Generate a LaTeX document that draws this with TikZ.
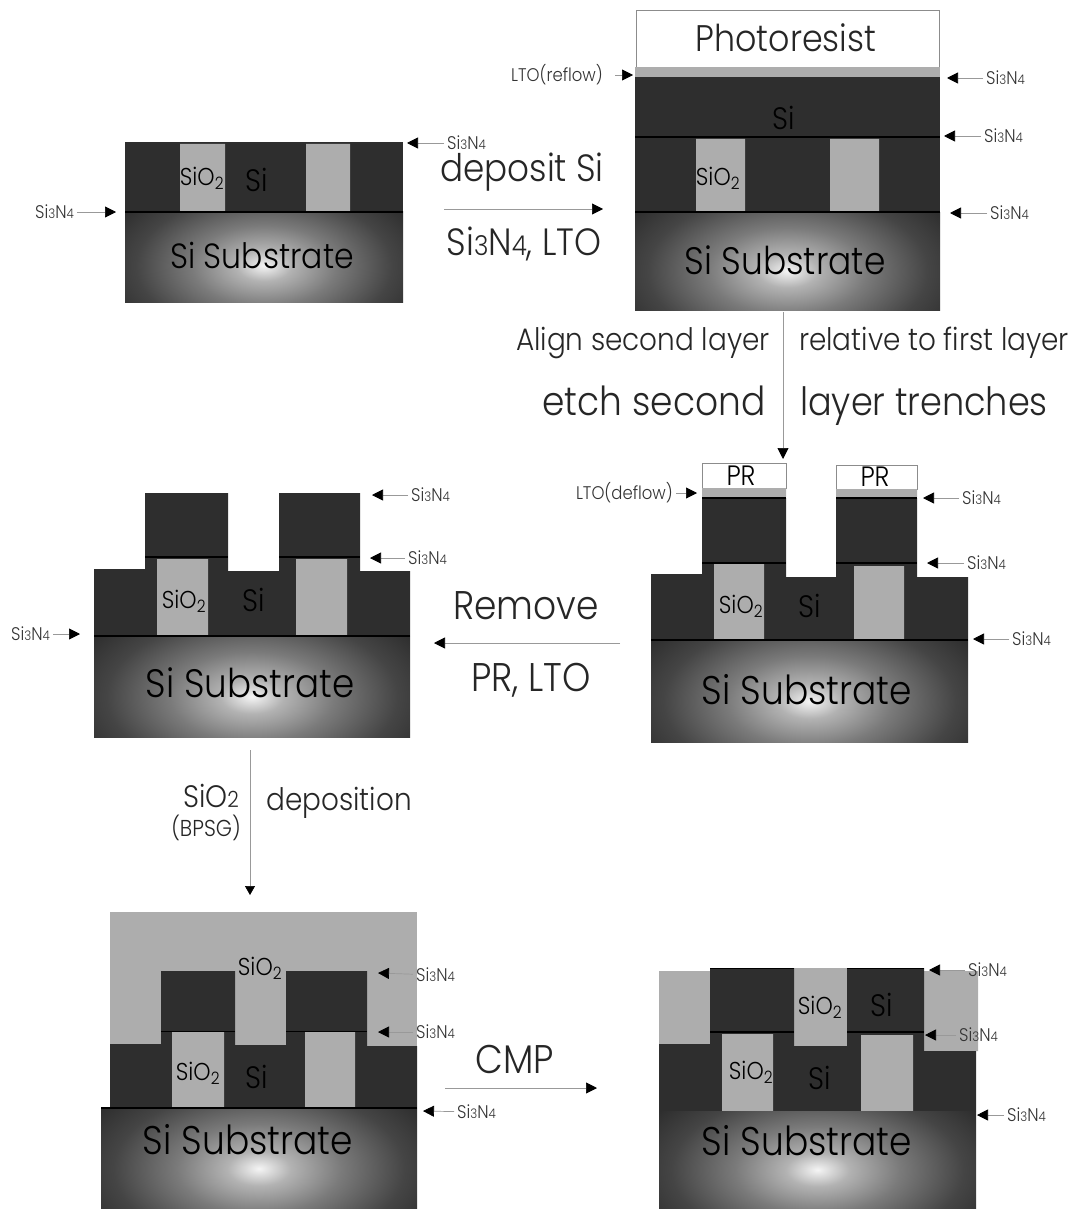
\documentclass[tikz,border=0pt]{standalone}
\usepackage{fontspec}
\usepackage{graphicx}
\setmainfont{Poppins}[UprightFont=*-Light,FakeStretch=0.9]
\usetikzlibrary{arrows.meta}
\definecolor{sidark}{gray}{0.18}
\definecolor{oxide}{gray}{0.68}
\definecolor{linegray}{gray}{0.6}
\pgfdeclareradialshading{subglow}{\pgfpoint{0bp}{0bp}}{color(0bp)=(white!96!black); color(5bp)=(white!70!black); color(13bp)=(black!52); color(23bp)=(black!73); color(33bp)=(black!85); color(50bp)=(black!92)}
\newcommand\sn{Si\scalebox{.72}{3}N\scalebox{.72}{4}}
\newcommand\sno{SiO\textsubscript{2}}
\newcommand\fs[1]{\fontsize{#1}{#1}\selectfont}
\newcommand\substr[4]{\begin{scope}\clip (#1,#2) rectangle (#3,#4);
 \path[shading=subglow] (#1,{#2-0.25*(#4-#2)}) rectangle (#3,{#2+1.45*(#4-#2)});\end{scope}}
\tikzset{
 lab/.style={font=\fs{18.3},inner sep=0pt,text=black!80},
 cell/.style={font=\fs{24.4},inner sep=0pt,text=black},
 sil/.style={font=\fs{31},inner sep=0pt,text=black},
 subs/.style={font=\fs{40},inner sep=0pt,text=black},
 big/.style={font=\fs{38},inner sep=0pt,text=black!85},
 bigger/.style={font=\fs{40},inner sep=0pt,text=black!85},
 mid/.style={font=\fs{31},inner sep=0pt,text=black!85},
 prt/.style={font=\fs{28},inner sep=0pt,text=black},
 conn/.style={draw=linegray,line width=.7pt,shorten <=3pt,-{Triangle[length=11pt,width=11pt,black]}},
 darkfill/.style={fill=sidark,draw=none},
 oxfill/.style={fill=oxide,draw=none},
 nitride/.style={draw=black,line width=1.3pt},
 prbox/.style={fill=white,draw=black!45,line width=.5pt},
}
\begin{document}
\begin{tikzpicture}[x=1pt,y=-1pt]
\useasboundingbox (0,0) rectangle (1071,1209);
% ---------- panel 1
\path[darkfill] (125,142) rectangle (403,211);
\path[oxfill] (180,144) rectangle (225,211) (306,144) rectangle (350,211);
\substr{125}{211}{403}{302}
\draw[nitride] (125,212) -- (403,212);
\node[cell] (p1ox) at (202,178) {\sno};
\node[sil] (p1si) at (257,180) {Si};
\node[subs,font=\fs{35}] (p1sub) at (262,255) {Si Substrate};
\node[lab,anchor=west] (p1a) at (447,143) {\sn};
\coordinate (p1at) at (407,143);
\draw[conn] (p1a) -- (p1at);
\node[lab,anchor=west] (p1b) at (35,212) {\sn};
\coordinate (p1bt) at (116,212);
\draw[conn] (p1b) -- (p1bt);
% step 1 arrow
\node[big] (dep) at (522,172) {deposit Si};
\node[big] (dep2) at (524,244) {\sn, LTO};
\coordinate (s1a) at (444,209);
\coordinate (s1b) at (603,209);
\draw[conn,shorten <=0pt] (s1a) -- (s1b);
% ---------- panel 2
\path[prbox] (636,10) rectangle (939,67);
\path[oxfill] (635,67) rectangle (940,77);
\path[darkfill] (635,77) rectangle (940,212);
\path[oxfill] (696,139) rectangle (745,212) (830,139) rectangle (879,212);
\substr{635}{212}{940}{310}
\draw[nitride] (635,137) -- (940,137);
\draw[nitride] (635,212) -- (940,212);
\node[font=\fs{37},inner sep=0pt,text=black!85] (p2pr) at (786,38) {Photoresist};
\node[sil] (p2si) at (784,118) {Si};
\node[cell] (p2ox) at (718,178) {\sno};
\node[subs,font=\fs{38.3}] (p2sub) at (785,260) {Si Substrate};
\node[lab,anchor=east] (p2l) at (603,75) {LTO(reflow)};
\coordinate (p2lt) at (633,75);
\draw[conn,shorten <=12pt] (p2l) -- (p2lt);
\node[lab,anchor=west] (p2a) at (986,78) {\sn};
\coordinate (p2at) at (947,78);
\draw[conn] (p2a) -- (p2at);
\node[lab,anchor=west] (p2b) at (984,136) {\sn};
\coordinate (p2bt) at (944,136);
\draw[conn] (p2b) -- (p2bt);
\node[lab,anchor=west] (p2c) at (990,213) {\sn};
\coordinate (p2ct) at (950,213);
\draw[conn] (p2c) -- (p2ct);
% step 2 arrow
\node[mid,anchor=base] (al1) at (643,350) {Align second layer};
\node[mid,anchor=base] (al2) at (934,350) {relative to first layer};
\node[bigger,anchor=base] (et1) at (654,415) {etch second};
\node[bigger,anchor=base,font=\fs{39}] (et2) at (924,415) {layer trenches};
\coordinate (s2a) at (783,312);
\coordinate (s2b) at (783,459);
\draw[conn,shorten <=0pt] (s2a) -- (s2b);
% ---------- panel 3
\path[darkfill] (651,574) -| (702,498) -| (786,577) -| (836,498) -| (917,577) -| (968,640) -| cycle;
\path[prbox] (702,463) rectangle (786,488) (836,465) rectangle (917,489);
\path[oxfill] (702,488) rectangle (786,497) (836,489) rectangle (917,497);
\path[oxfill] (714,564) rectangle (764,640) (854,566) rectangle (904,640);
\substr{651}{640}{968}{742}
\draw[nitride] (702,498) -- (786,498) (836,498) -- (917,498);
\draw[nitride] (702,563) -- (786,563) (836,563) -- (917,563);
\draw[nitride] (651,640) -- (968,640);
\node[prt] (p3pr1) at (741,476) {PR};
\node[prt] (p3pr2) at (875,477) {PR};
\node[cell] (p3ox) at (741,606) {\sno};
\node[sil] (p3si) at (810,606) {Si};
\node[subs] (p3sub) at (807,690) {Si Substrate};
\node[lab,anchor=east] (p3l) at (673,493) {LTO(deflow)};
\coordinate (p3lt) at (697,493);
\draw[conn] (p3l) -- (p3lt);
\node[lab,anchor=west] (p3a) at (962,498) {\sn};
\coordinate (p3at) at (923,498);
\draw[conn] (p3a) -- (p3at);
\node[lab,anchor=west] (p3b) at (967,563) {\sn};
\coordinate (p3bt) at (927,563);
\draw[conn] (p3b) -- (p3bt);
\node[lab,anchor=west] (p3c) at (1012,639) {\sn};
\coordinate (p3ct) at (973,639);
\draw[conn] (p3c) -- (p3ct);
% step 3 arrow
\node[bigger] (rem1) at (526,606) {Remove};
\node[bigger] (rem2) at (531,680) {PR, LTO};
\coordinate (s3a) at (620,643);
\coordinate (s3b) at (434,643);
\draw[conn,shorten <=0pt] (s3a) -- (s3b);
% ---------- panel 4
\path[darkfill] (94,569) -| (145,493) -| (228,571) -| (279,493) -| (360,571) -| (410,636) -| cycle;
\path[oxfill] (157,559) rectangle (208,636) (296,559) rectangle (347,636);
\substr{94}{636}{410}{737}
\draw[nitride] (145,557) -- (228,557) (279,557) -- (360,557);
\draw[nitride] (94,636) -- (410,636);
\node[cell] (p4ox) at (184,601) {\sno};
\node[sil] (p4si) at (254,600) {Si};
\node[subs,font=\fs{39.7}] (p4sub) at (250,683) {Si Substrate};
\node[lab,anchor=west] (p4a) at (411,495) {\sn};
\coordinate (p4at) at (372,495);
\draw[conn] (p4a) -- (p4at);
\node[lab,anchor=west] (p4b) at (408,558) {\sn};
\coordinate (p4bt) at (370,558);
\draw[conn] (p4b) -- (p4bt);
\node[lab,anchor=west] (p4c) at (11,634) {\sn};
\coordinate (p4ct) at (80,634);
\draw[conn] (p4c) -- (p4ct);
% step 4 arrow
\node[font=\fs{31},inner sep=0pt,text=black!85] (d1) at (211,796) {SiO\scalebox{.72}{2}};
\node[font=\fs{23},inner sep=0pt,text=black!85] (d2) at (206,828) {(BPSG)};
\node[mid] (d3) at (339,803) {deposition};
\coordinate (s4a) at (250,750);
\coordinate (s4b) at (250,895);
\draw[conn,shorten <=0pt,-{Triangle[length=9pt,width=10pt,black]}] (s4a) -- (s4b);
% ---------- panel 5
\path[oxfill] (110,912) rectangle (417,1046);
\path[darkfill] (110,1044) -| (161,971) -| (235,1045) -| (286,971) -| (367,1046) -| (417,1108) -| cycle;
\path[oxfill] (172,1032) rectangle (224,1108) (305,1032) rectangle (355,1108);
\substr{101}{1108}{417}{1209}
\draw[nitride,line width=.8pt] (161,1031) -- (235,1031) (286,1031) -- (367,1031);
\draw[nitride] (101,1108) -- (417,1108);
\node[cell] (p5ox1) at (260,968) {\sno};
\node[cell] (p5ox2) at (198,1073) {\sno};
\node[sil] (p5si) at (257,1077) {Si};
\node[subs] (p5sub) at (248,1140) {Si Substrate};
\node[lab,anchor=west] (p5a) at (416,975) {\sn};
\coordinate (p5at) at (378,973);
\draw[conn] (p5a) -- (p5at);
\node[lab,anchor=west] (p5b) at (416,1032) {\sn};
\coordinate (p5bt) at (378,1032);
\draw[conn] (p5b) -- (p5bt);
\node[lab,anchor=west] (p5c) at (457,1112) {\sn};
\coordinate (p5ct) at (423,1111);
\draw[conn] (p5c) -- (p5ct);
% step 5 arrow
\node[bigger] (cmp) at (515,1059) {CMP};
\coordinate (s5a) at (445,1088);
\coordinate (s5b) at (597,1088);
\draw[conn,shorten <=0pt] (s5a) -- (s5b);
% ---------- panel 6
\path[oxfill] (659,971) rectangle (710,1046) (794,968) rectangle (847,1048) (924,971) rectangle (978,1051);
\path[darkfill] (659,1044) -| (710,968) -| (794,1046) -| (847,968) -| (924,1051) -| (976,1111) -| cycle;
\path[oxfill] (722,1034) rectangle (773,1111) (861,1035) rectangle (913,1111);
\substr{659}{1111}{976}{1209}
\draw[nitride,line width=.9pt] (710,968.5) -- (794,968.5) (847,968.5) -- (924,968.5);
\draw[nitride] (710,1032) -- (794,1032) (847,1032) -- (924,1032);
\node[cell] (p6ox1) at (820,1007) {\sno};
\node[sil] (p6si1) at (882,1005) {Si};
\node[cell] (p6ox2) at (751,1072) {\sno};
\node[sil] (p6si2) at (820,1078) {Si};
\node[subs] (p6sub) at (807,1141) {Si Substrate};
\node[lab,anchor=west] (p6a) at (968,970) {\sn};
\coordinate (p6at) at (929,970);
\draw[conn] (p6a) -- (p6at);
\node[lab,anchor=west] (p6b) at (959,1035) {\sn};
\coordinate (p6bt) at (925,1035);
\draw[conn] (p6b) -- (p6bt);
\node[lab,anchor=west] (p6c) at (1007,1115) {\sn};
\coordinate (p6ct) at (977,1115);
\draw[conn] (p6c) -- (p6ct);
\end{tikzpicture}
\end{document}
